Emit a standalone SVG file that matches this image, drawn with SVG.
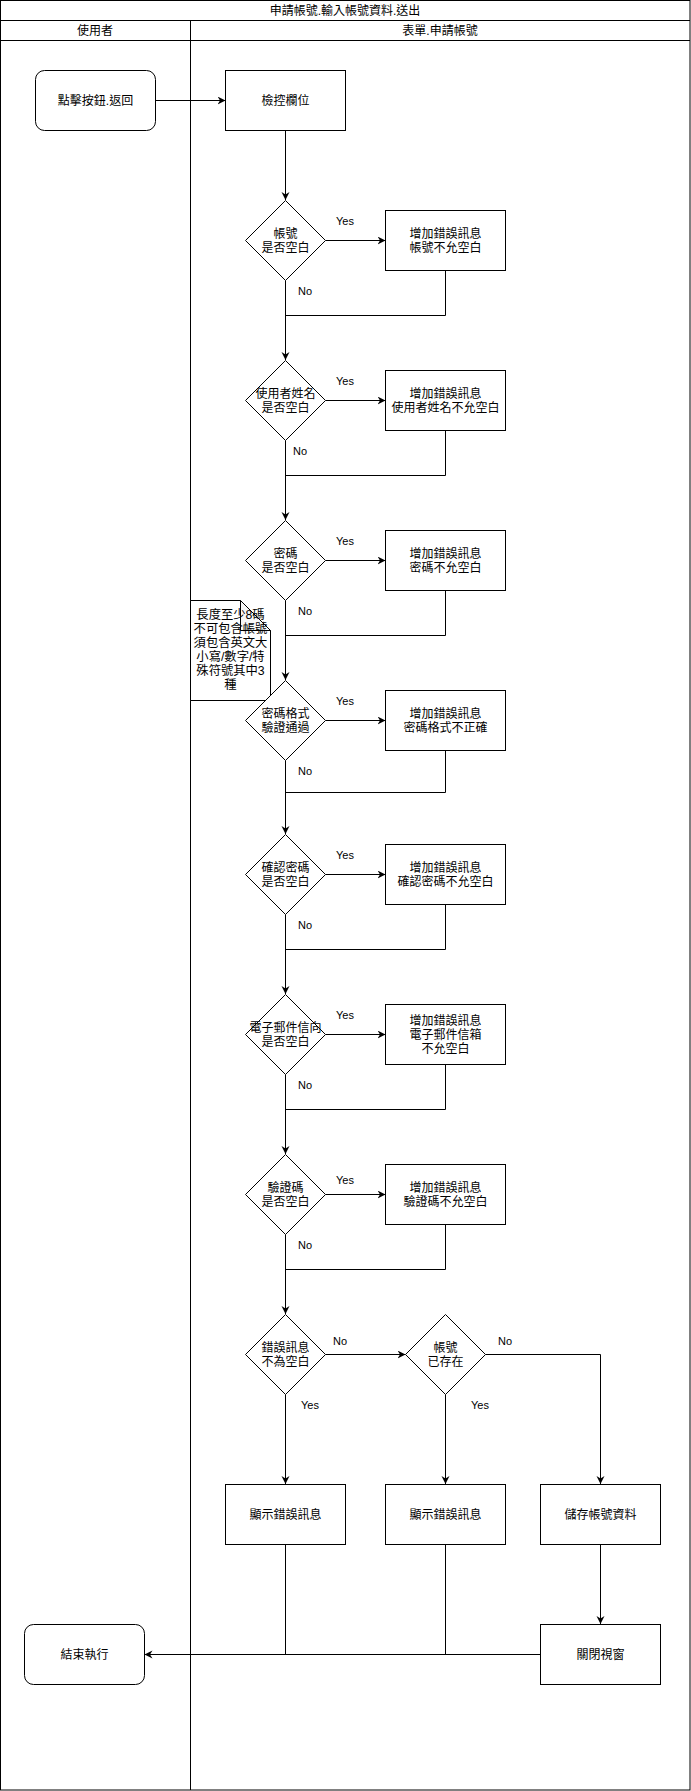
<svg xmlns="http://www.w3.org/2000/svg" width="691" height="1791" viewBox="0 0 691 1791">
<style>
text{font-family:"Liberation Sans","Noto Sans CJK TC",sans-serif;font-size:12px;fill:#000;text-anchor:middle;dominant-baseline:central}
.lbl{font-size:11px}
.note text{font-size:12.3px}
.s{fill:#fff;stroke:#000;stroke-width:1}
.c{fill:none;stroke:#000;stroke-width:1}
.pl{fill:none;stroke:#000;stroke-width:1}
</style>
<defs>
<marker id="arr" markerUnits="userSpaceOnUse" markerWidth="10" markerHeight="10" refX="8" refY="4" orient="auto">
<path d="M0,0 L8,4 L0,8 L2.5,4 Z" fill="#000"/>
</marker>
</defs>
<rect width="691" height="1791" fill="#fff"/>
<g id="pool">
<rect class="pl" x="0.5" y="0.5" width="689.5" height="1789.5"/>
<line class="pl" x1="0" y1="20.5" x2="690" y2="20.5"/>
<line class="pl" x1="0" y1="40.5" x2="690" y2="40.5"/>
<line class="pl" x1="190.5" y1="20.5" x2="190.5" y2="1790"/>
<text x="345" y="10.5">申請帳號.輸入帳號資料.送出</text>
<text x="95" y="30.5">使用者</text>
<text x="440" y="30.5">表單.申請帳號</text>
</g>
<g id="connectors">
<path class="c" d="M155.5,100.5 H225.5" marker-end="url(#arr)"/>
<path class="c" d="M285.5,130.5 V200" marker-end="url(#arr)"/>
<path class="c" d="M325.5,240.5 H385.5" marker-end="url(#arr)"/>
<path class="c" d="M445.5,270.5 V315.5 H285.5"/>
<path class="c" d="M285.5,280.5 V360" marker-end="url(#arr)"/>
<path class="c" d="M325.5,400.5 H385.5" marker-end="url(#arr)"/>
<path class="c" d="M445.5,430.5 V475.5 H285.5"/>
<path class="c" d="M285.5,440.5 V520" marker-end="url(#arr)"/>
<path class="c" d="M325.5,560.5 H385.5" marker-end="url(#arr)"/>
<path class="c" d="M445.5,590.5 V635.5 H285.5"/>
<path class="c" d="M285.5,600.5 V680" marker-end="url(#arr)"/>
<path class="c" d="M325.5,720.5 H385.5" marker-end="url(#arr)"/>
<path class="c" d="M445.5,750.5 V792.5 H285.5"/>
<path class="c" d="M285.5,760.5 V834" marker-end="url(#arr)"/>
<path class="c" d="M325.5,874.5 H385.5" marker-end="url(#arr)"/>
<path class="c" d="M445.5,904.5 V949.5 H285.5"/>
<path class="c" d="M285.5,914.5 V994" marker-end="url(#arr)"/>
<path class="c" d="M325.5,1034.5 H385.5" marker-end="url(#arr)"/>
<path class="c" d="M445.5,1064.5 V1109.5 H285.5"/>
<path class="c" d="M285.5,1074.5 V1154" marker-end="url(#arr)"/>
<path class="c" d="M325.5,1194.5 H385.5" marker-end="url(#arr)"/>
<path class="c" d="M445.5,1224.5 V1269.5 H285.5"/>
<path class="c" d="M285.5,1234.5 V1314" marker-end="url(#arr)"/>
<path class="c" d="M325.5,1354.5 H405.5" marker-end="url(#arr)"/>
<path class="c" d="M285.5,1394.5 V1484" marker-end="url(#arr)"/>
<path class="c" d="M445.5,1394.5 V1484" marker-end="url(#arr)"/>
<path class="c" d="M485.5,1354.5 H600.5 V1484" marker-end="url(#arr)"/>
<path class="c" d="M600.5,1544.5 V1624" marker-end="url(#arr)"/>
<path class="c" d="M540,1654.5 H144.5" marker-end="url(#arr)"/>
<path class="c" d="M285.5,1544.5 V1654.5"/>
<path class="c" d="M445.5,1544.5 V1654.5"/>
<g class="lbl-g">
<text class="lbl" x="345" y="221">Yes</text>
<text class="lbl" x="305" y="291">No</text>
<text class="lbl" x="345" y="381">Yes</text>
<text class="lbl" x="300" y="451">No</text>
<text class="lbl" x="345" y="541">Yes</text>
<text class="lbl" x="305" y="611">No</text>
<text class="lbl" x="345" y="701">Yes</text>
<text class="lbl" x="305" y="771">No</text>
<text class="lbl" x="345" y="855">Yes</text>
<text class="lbl" x="305" y="925">No</text>
<text class="lbl" x="345" y="1015">Yes</text>
<text class="lbl" x="305" y="1085">No</text>
<text class="lbl" x="345" y="1180">Yes</text>
<text class="lbl" x="305" y="1245">No</text>
<text class="lbl" x="340" y="1341">No</text>
<text class="lbl" x="505" y="1341">No</text>
<text class="lbl" x="310" y="1405">Yes</text>
<text class="lbl" x="480" y="1405">Yes</text>
</g>
</g>
<g id="start"><rect class="s" x="35.5" y="70.5" width="120" height="60" rx="9"/><text x="95.5" y="100.5">點擊按鈕.返回</text></g>
<g id="check"><rect class="s" x="225.5" y="70.5" width="120" height="60"/><text x="285.5" y="100.5">檢控欄位</text></g>
<g id="d1"><path class="s" d="M285.5,200.5 L325.5,240.5 L285.5,280.5 L245.5,240.5 Z"/><text x="285.5" y="233.5">帳號</text><text x="285.5" y="247.5">是否空白</text></g>
<g id="e1"><rect class="s" x="385.5" y="210.5" width="120" height="60"/><text x="445.5" y="233.5">增加錯誤訊息</text><text x="445.5" y="247.5">帳號不允空白</text></g>
<g id="d2"><path class="s" d="M285.5,360.5 L325.5,400.5 L285.5,440.5 L245.5,400.5 Z"/><text x="285.5" y="393.5">使用者姓名</text><text x="285.5" y="407.5">是否空白</text></g>
<g id="e2"><rect class="s" x="385.5" y="370.5" width="120" height="60"/><text x="445.5" y="393.5">增加錯誤訊息</text><text x="445.5" y="407.5">使用者姓名不允空白</text></g>
<g id="d3"><path class="s" d="M285.5,520.5 L325.5,560.5 L285.5,600.5 L245.5,560.5 Z"/><text x="285.5" y="553.5">密碼</text><text x="285.5" y="567.5">是否空白</text></g>
<g id="e3"><rect class="s" x="385.5" y="530.5" width="120" height="60"/><text x="445.5" y="553.5">增加錯誤訊息</text><text x="445.5" y="567.5">密碼不允空白</text></g>
<g id="note" class="note"><path class="s" d="M190.5,600.5 H240.5 L270.5,630.5 V700.5 H190.5 Z"/><path d="M240.5,600.5 V630.5 H270.5 Z" fill="#f7f7f7" stroke="#000" stroke-width="1"/><text x="230.5" y="615">長度至少8碼</text><text x="230.5" y="629">不可包含帳號</text><text x="230.5" y="643">須包含英文大</text><text x="230.5" y="657">小寫/數字/特</text><text x="230.5" y="671">殊符號其中3</text><text x="230.5" y="685">種</text></g>
<g id="d4"><path class="s" d="M285.5,680.5 L325.5,720.5 L285.5,760.5 L245.5,720.5 Z"/><text x="285.5" y="713.5">密碼格式</text><text x="285.5" y="727.5">驗證通過</text></g>
<g id="e4"><rect class="s" x="385.5" y="690.5" width="120" height="60"/><text x="445.5" y="713.5">增加錯誤訊息</text><text x="445.5" y="727.5">密碼格式不正確</text></g>
<g id="d5"><path class="s" d="M285.5,834.5 L325.5,874.5 L285.5,914.5 L245.5,874.5 Z"/><text x="285.5" y="867.5">確認密碼</text><text x="285.5" y="881.5">是否空白</text></g>
<g id="e5"><rect class="s" x="385.5" y="844.5" width="120" height="60"/><text x="445.5" y="867.5">增加錯誤訊息</text><text x="445.5" y="881.5">確認密碼不允空白</text></g>
<g id="d6"><path class="s" d="M285.5,994.5 L325.5,1034.5 L285.5,1074.5 L245.5,1034.5 Z"/><text x="285.5" y="1027.5">電子郵件信向</text><text x="285.5" y="1041.5">是否空白</text></g>
<g id="e6"><rect class="s" x="385.5" y="1004.5" width="120" height="60"/><text x="445.5" y="1020.5">增加錯誤訊息</text><text x="445.5" y="1034.5">電子郵件信箱</text><text x="445.5" y="1048.5">不允空白</text></g>
<g id="d7"><path class="s" d="M285.5,1154.5 L325.5,1194.5 L285.5,1234.5 L245.5,1194.5 Z"/><text x="285.5" y="1187.5">驗證碼</text><text x="285.5" y="1201.5">是否空白</text></g>
<g id="e7"><rect class="s" x="385.5" y="1164.5" width="120" height="60"/><text x="445.5" y="1187.5">增加錯誤訊息</text><text x="445.5" y="1201.5">驗證碼不允空白</text></g>
<g id="d8"><path class="s" d="M285.5,1314.5 L325.5,1354.5 L285.5,1394.5 L245.5,1354.5 Z"/><text x="285.5" y="1347.5">錯誤訊息</text><text x="285.5" y="1361.5">不為空白</text></g>
<g id="d9"><path class="s" d="M445.5,1314.5 L485.5,1354.5 L445.5,1394.5 L405.5,1354.5 Z"/><text x="445.5" y="1347.5">帳號</text><text x="445.5" y="1361.5">已存在</text></g>
<g id="showA"><rect class="s" x="225.5" y="1484.5" width="120" height="60"/><text x="285.5" y="1514.5">顯示錯誤訊息</text></g>
<g id="showB"><rect class="s" x="385.5" y="1484.5" width="120" height="60"/><text x="445.5" y="1514.5">顯示錯誤訊息</text></g>
<g id="save"><rect class="s" x="540.5" y="1484.5" width="120" height="60"/><text x="600.5" y="1514.5">儲存帳號資料</text></g>
<g id="close"><rect class="s" x="540.5" y="1624.5" width="120" height="60"/><text x="600.5" y="1654.5">關閉視窗</text></g>
<g id="end"><rect class="s" x="24.5" y="1624.5" width="120" height="60" rx="9"/><text x="84.5" y="1654.5">結束執行</text></g>
</svg>
